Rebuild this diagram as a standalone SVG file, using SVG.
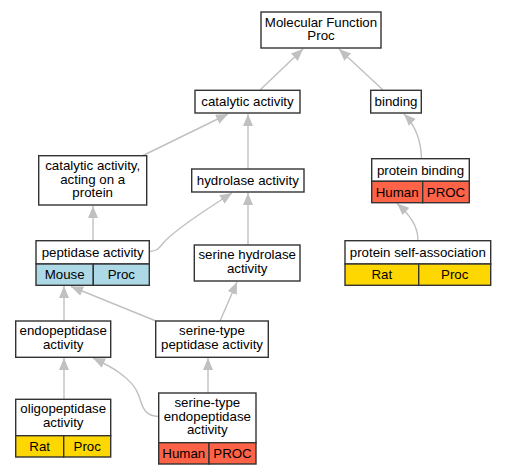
<svg xmlns="http://www.w3.org/2000/svg" width="505" height="475" viewBox="0 0 505 475">
<style>
text{font-family:"Liberation Sans",Arial,sans-serif;font-size:13.3px;text-anchor:middle;fill:#000}
.b{fill:#fff;stroke:#333;stroke-width:1.4}
.mouse{fill:#add8e6;stroke:#333;stroke-width:1.4}
.rat{fill:#ffd700;stroke:#333;stroke-width:1.4}
.human{fill:#ff6347;stroke:#333;stroke-width:1.4}
.e{fill:none;stroke:#c0c0c0;stroke-width:1.4;marker-end:url(#ah)}
</style>
<defs>
<marker id="ah" markerUnits="userSpaceOnUse" markerWidth="14" markerHeight="12" refX="12" refY="5" orient="auto">
<path d="M0,0 L12,5 L0,10 z" fill="#c0c0c0"/>
</marker>
</defs>
<rect width="505" height="475" fill="#fff"/>
<g id="edges">
<path class="e" d="M260,90 L303,49"/>
<path class="e" d="M383,90 L339,49"/>
<path class="e" d="M143,155.5 L228,114"/>
<path class="e" d="M248,169 L248,114"/>
<path class="e" d="M421.5,158.5 C421,140 415,125 404,114"/>
<path class="e" d="M93,240.5 L93,206"/>
<path class="e" d="M150,251.5 C159,251 160,246 166,240 C176,230 210,207 232,193"/>
<path class="e" d="M248,245 L248,193"/>
<path class="e" d="M418,240.5 C418,226 410,215 397,203.5"/>
<path class="e" d="M64,321 L64,286"/>
<path class="e" d="M156,321 L71,286.5"/>
<path class="e" d="M220,321 L237,282"/>
<path class="e" d="M64,399 L64,358"/>
<path class="e" d="M158.5,416.5 C146,416 143,410 139,396 C133,378 110,366 93,358"/>
<path class="e" d="M208,393 L208,358"/>
</g>
<g id="molecular_function">
<rect class="b" x="261" y="12" width="120" height="36"/>
<text x="321" y="26.5">Molecular Function</text>
<text x="321" y="40">Proc</text>
</g>
<g id="catalytic_activity">
<rect class="b" x="195" y="90.3" width="105" height="22.7"/>
<text x="247.5" y="106">catalytic activity</text>
</g>
<g id="binding">
<rect class="b" x="370.7" y="90.3" width="50.6" height="22.7"/>
<text x="396" y="106">binding</text>
</g>
<g id="catalytic_acting_on_protein">
<rect class="b" x="38.7" y="155.7" width="108" height="49.3"/>
<text x="92.7" y="170">catalytic activity,</text>
<text x="92.7" y="183.5">acting on a</text>
<text x="92.7" y="197">protein</text>
</g>
<g id="hydrolase_activity">
<rect class="b" x="191.7" y="169" width="112.3" height="23"/>
<text x="247.8" y="184.5">hydrolase activity</text>
</g>
<g id="protein_binding">
<rect class="b" x="371.7" y="158.7" width="97.6" height="22.6"/>
<rect class="human" x="371.7" y="181.3" width="51" height="21.4"/>
<rect class="human" x="422.7" y="181.3" width="46.6" height="21.4"/>
<text x="420.5" y="174.5">protein binding</text>
<text x="397.2" y="196.5">Human</text>
<text x="446" y="196.5">PROC</text>
</g>
<g id="peptidase_activity">
<rect class="b" x="36" y="240.7" width="113.3" height="23.3"/>
<rect class="mouse" x="36" y="264" width="57.3" height="21.3"/>
<rect class="mouse" x="93.3" y="264" width="56" height="21.3"/>
<text x="92.7" y="256.5">peptidase activity</text>
<text x="64.7" y="279">Mouse</text>
<text x="121.3" y="279">Proc</text>
</g>
<g id="serine_hydrolase_activity">
<rect class="b" x="194.3" y="245" width="105.7" height="36"/>
<text x="247.2" y="259">serine hydrolase</text>
<text x="247.2" y="272.5">activity</text>
</g>
<g id="protein_self_association">
<rect class="b" x="345" y="240.7" width="145.7" height="23.3"/>
<rect class="rat" x="345" y="264" width="73.7" height="21.3"/>
<rect class="rat" x="418.7" y="264" width="72" height="21.3"/>
<text x="417.8" y="256.5">protein self-association</text>
<text x="381.8" y="279">Rat</text>
<text x="454.7" y="279">Proc</text>
</g>
<g id="endopeptidase_activity">
<rect class="b" x="15.7" y="321" width="95" height="36.3"/>
<text x="63.2" y="335">endopeptidase</text>
<text x="63.2" y="348.5">activity</text>
</g>
<g id="serine_type_peptidase_activity">
<rect class="b" x="155.7" y="321" width="112.6" height="36.3"/>
<text x="212" y="335">serine-type</text>
<text x="212" y="348.5">peptidase activity</text>
</g>
<g id="oligopeptidase_activity">
<rect class="b" x="15.7" y="399.3" width="95" height="36.4"/>
<rect class="rat" x="15.7" y="435.7" width="48" height="21.3"/>
<rect class="rat" x="63.7" y="435.7" width="47" height="21.3"/>
<text x="63.2" y="413">oligopeptidase</text>
<text x="63.2" y="426.5">activity</text>
<text x="39.7" y="450.5">Rat</text>
<text x="87.2" y="450.5">Proc</text>
</g>
<g id="serine_type_endopeptidase_activity">
<rect class="b" x="158.7" y="393" width="97.3" height="49.7"/>
<rect class="human" x="158.7" y="442.7" width="50.3" height="21.3"/>
<rect class="human" x="209" y="442.7" width="47" height="21.3"/>
<text x="207.3" y="407">serine-type</text>
<text x="207.3" y="420.5">endopeptidase</text>
<text x="207.3" y="434">activity</text>
<text x="183.8" y="457.5">Human</text>
<text x="232.5" y="457.5">PROC</text>
</g>
</svg>
